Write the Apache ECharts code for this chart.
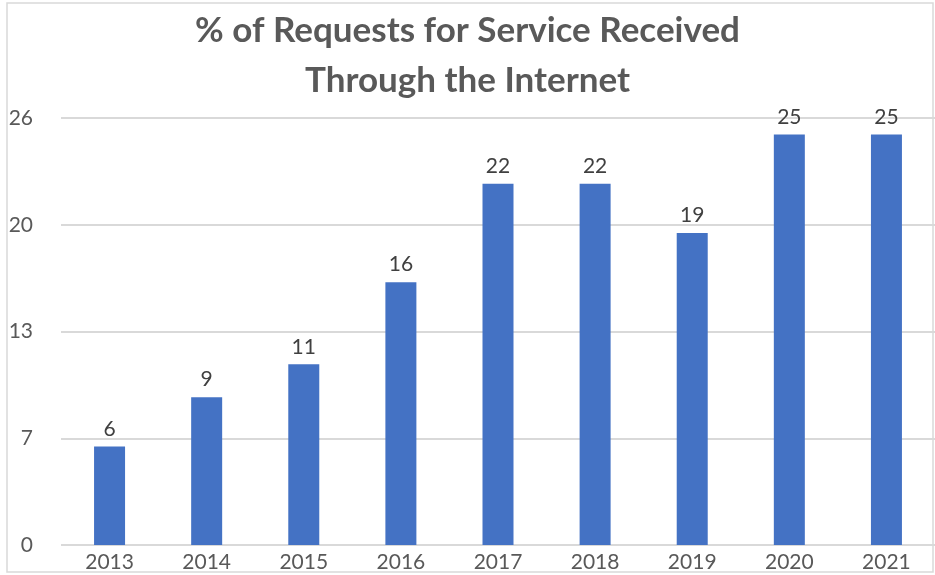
<!DOCTYPE html>
<html>
<head>
<meta charset="utf-8">
<script src="https://cdn.jsdelivr.net/npm/echarts@6/dist/echarts.min.js"></script>
<style>
  html, body { margin: 0; padding: 0; background: #ffffff; }
  #chart { width: 935px; height: 575px; }
</style>
</head>
<body>
<div id="chart"></div>
<script>
// Share of service requests received online, by year
const years = ['2013', '2014', '2015', '2016', '2017', '2018', '2019', '2020', '2021'];
const percentOnline = [6, 9, 11, 16, 22, 22, 19, 25, 25];
const axisMax = 26;
const axisStep = 6.5;

const FONT = 'Lato, "Open Sans", sans-serif';

const chart = echarts.init(document.getElementById('chart'));
chart.setOption({
  animation: false,
  backgroundColor: '#ffffff',
  title: {
    text: '% of Requests for Service Received\nThrough the Internet',
    left: 'center',
    top: 1,
    textStyle: {
      fontFamily: FONT,
      fontWeight: 'bold',
      fontSize: 35,
      lineHeight: 50,
      color: '#595959'
    }
  },
  graphic: [{
    type: 'rect',
    shape: { x: 7, y: 3, width: 926, height: 569 },
    style: { fill: 'none', stroke: '#d9d9d9', lineWidth: 1.5 },
    silent: true,
    z: -1
  }],
  grid: { left: 61, right: -7, top: 118, bottom: 30 },
  xAxis: {
    type: 'category',
    data: years,
    axisLine: { show: false },
    axisTick: { show: false },
    axisLabel: {
      fontFamily: FONT,
      fontSize: 21,
      color: '#595959',
      margin: 7
    }
  },
  yAxis: {
    type: 'value',
    min: 0,
    max: axisMax,
    interval: axisStep,
    axisLine: { show: false },
    axisTick: { show: false },
    splitLine: { lineStyle: { color: '#d9d9d9', width: 2 } },
    axisLabel: {
      fontFamily: FONT,
      fontSize: 21,
      color: '#595959',
      margin: 28,
      formatter: v => String(Math.round(v))
    }
  },
  series: [{
    type: 'bar',
    data: percentOnline,
    barWidth: 31,
    itemStyle: { color: '#4472c4' },
    label: {
      show: true,
      position: 'top',
      distance: 7,
      fontFamily: FONT,
      fontSize: 21,
      color: '#404040'
    }
  }]
});
</script>
</body>
</html>
